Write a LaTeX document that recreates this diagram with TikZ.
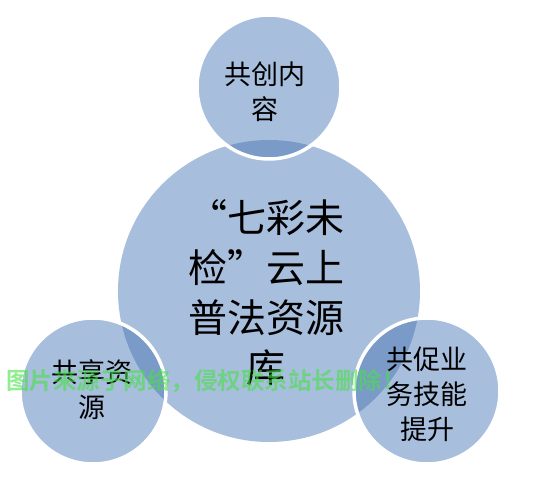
\documentclass[tikz,border=0pt]{standalone}
\usepackage{fontspec}
\newfontfamily\cjk{Noto Sans CJK SC}
\newfontfamily\cjkb{Noto Sans CJK SC Bold}
\definecolor{cfill}{RGB}{168,190,221}
\definecolor{cdark}{RGB}{122,154,200}
\definecolor{wmark}{RGB}{70,225,70}
\begin{document}
\begin{tikzpicture}[x=1pt,y=-1pt,
  bub/.style={circle,fill=cfill,inner sep=0pt},
  ring/.style={circle,draw=white,line width=3.5pt,inner sep=0pt},
  bigtxt/.style={font=\cjk\fontsize{39}{50}\selectfont,align=center,text=black},
  smtxt/.style={font=\cjk\fontsize{27}{35}\selectfont,align=center,text=black}]
\useasboundingbox (0,0) rectangle (538,500);
\fill[white] (0,0) rectangle (538,500);
% main circle
\node[bub,minimum size=302pt] (main) at (269,291) {};
% small circles
\node[bub,minimum size=144pt] (top) at (269,87) {};
\node[bub,minimum size=146pt] (left) at (93,391) {};
\node[bub,minimum size=146pt] (right) at (427,391) {};
% overlaps
\begin{scope}
  \clip (269,291) circle (151pt);
  \fill[cdark] (269,87) circle (72pt);
  \fill[cdark] (93,391) circle (73pt);
  \fill[cdark] (427,391) circle (73pt);
\end{scope}
\node[ring,minimum size=144pt] at (top) {};
\node[ring,minimum size=146pt] at (left) {};
\node[ring,minimum size=146pt] at (right) {};
% texts
\node[bigtxt] (mt) at (266,293) {“七彩未\\检”云上\\普法资源\\库};
\node[smtxt] (tt) at (265,92) {共创内\\容};
\node[smtxt] (lt) at (92,390) {共享资\\源};
\node[smtxt] (rt) at (427,394) {共促业\\务技能\\提升};
% watermark
\node[font=\cjkb\fontsize{23.5}{25}\selectfont,text=wmark,text opacity=0.6,anchor=west,inner sep=0pt] (wm) at (6,381) {图片来源于网络，侵权联系站长删除！};
\end{tikzpicture}
\end{document}
